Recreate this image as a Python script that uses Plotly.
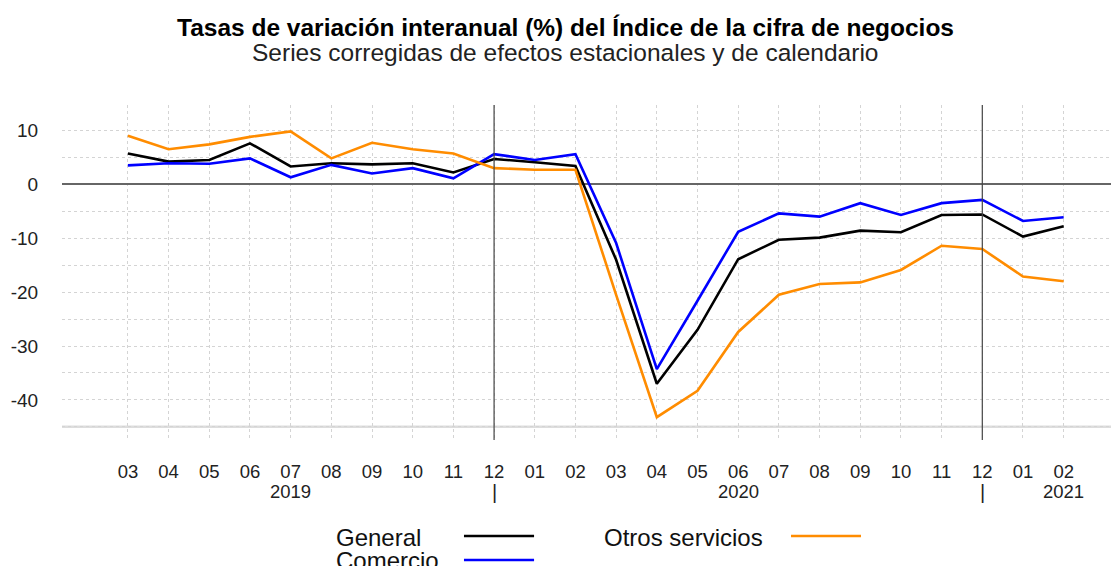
import plotly.graph_objects as go

months = ["03", "04", "05", "06", "07", "08", "09", "10", "11", "12", "01", "02",
          "03", "04", "05", "06", "07", "08", "09", "10", "11", "12", "01", "02"]
years = ["2019", "2020", "2021"]
year_pos = [4, 15, 23]
year_breaks = [9, 21]

general = [5.7, 4.2, 4.5, 7.6, 3.3, 3.9, 3.7, 3.9, 2.2, 4.7, 4.1, 3.4,
           -14.0, -37.0, -27.0, -13.9, -10.3, -9.9, -8.6, -8.9, -5.7, -5.6, -9.7, -7.8]
comercio = [3.5, 3.9, 3.8, 4.8, 1.3, 3.6, 2.0, 3.0, 1.1, 5.6, 4.5, 5.6,
            -10.9, -34.3, -21.6, -8.8, -5.4, -6.0, -3.5, -5.7, -3.5, -2.9, -6.8, -6.1]
otros = [9.0, 6.5, 7.4, 8.8, 9.8, 4.8, 7.7, 6.5, 5.7, 3.0, 2.7, 2.7,
         -20.5, -43.2, -38.3, -27.4, -20.5, -18.5, -18.2, -15.9, -11.4, -12.0, -17.1, -18.0]

series_names = ["General", "Comercio", "Otros servicios"]
series_vals = [general, comercio, otros]
series_colors = ["#000000", "#0000FF", "#FF8C00"]

y_ticks = [-45, -40, -35, -30, -25, -20, -15, -10, -5, 0, 5, 10]
y_ticktext = ["", "-40", "", "-30", "", "-20", "", "-10", "", "0", "", "10"]

FONT = "Liberation Sans, Arial, Helvetica, sans-serif"
x_idx = list(range(len(months)))

fig = go.Figure()
for name, vals, col in zip(series_names, series_vals, series_colors):
    fig.add_trace(go.Scatter(x=x_idx, y=vals, mode="lines", name=name,
                             line=dict(color=col, width=2.6), showlegend=False))

shapes = []
shapes.append(dict(type="line", xref="paper", x0=0, x1=1, yref="y", y0=-45, y1=-45,
                   line=dict(color="#dddddd", width=2.5), layer="below"))
for b in year_breaks:
    shapes.append(dict(type="line", xref="x", x0=b, x1=b, yref="paper", y0=0, y1=1,
                       line=dict(color="#444444", width=1.2)))

annotations = []
for yr, p in zip(years, year_pos):
    annotations.append(dict(text=yr, x=p, xref="x", y=-0.155, yref="paper",
                            showarrow=False, font=dict(size=18.5, color="#222222", family=FONT),
                            xanchor="center", yanchor="middle"))
for b in year_breaks:
    annotations.append(dict(text="|", x=b, xref="x", y=-0.155, yref="paper",
                            showarrow=False, font=dict(size=20, color="#222222", family=FONT),
                            xanchor="center", yanchor="middle"))

annotations.append(dict(text="<b>Tasas de variación interanual (%) del Índice de la cifra de negocios</b>",
                        x=0.4759, y=1.2328, xref="paper", yref="paper", showarrow=False,
                        font=dict(size=24.5, color="#000000", family=FONT),
                        xanchor="center", yanchor="middle"))
annotations.append(dict(text="Series corregidas de efectos estacionales y de calendario",
                        x=0.4759, y=1.158, xref="paper", yref="paper", showarrow=False,
                        font=dict(size=24.5, color="#222222", family=FONT),
                        xanchor="center", yanchor="middle"))

leg = [("General", 0.2573, -0.2896, 0.3803, 0.4466, "#000000"),
       ("Comercio", 0.2573, -0.361, 0.3803, 0.4466, "#0000FF"),
       ("Otros servicios", 0.5109, -0.2896, 0.6897, 0.7559, "#FF8C00")]
for txt, tx, ty, k0, k1, col in leg:
    annotations.append(dict(text=txt, x=tx, y=ty, xref="paper", yref="paper", showarrow=False,
                            font=dict(size=24, color="#111111", family=FONT),
                            xanchor="left", yanchor="middle"))
    shapes.append(dict(type="line", xref="paper", yref="paper", x0=k0, x1=k1, y0=ty + 0.003,
                       y1=ty + 0.003, line=dict(color=col, width=2.6)))

# page has an 8px body margin: size the figure so the plot lands where the reference has it
fig.update_layout(
    width=1111, height=558,
    margin=dict(l=54, r=0, t=97, b=126),
    paper_bgcolor="white", plot_bgcolor="white",
    font=dict(family=FONT, size=18, color="#222222"),
    shapes=shapes, annotations=annotations,
    showlegend=False,
)
fig.update_xaxes(range=[-1.62, 24.36], tickvals=x_idx, ticktext=months,
                 showgrid=True, gridcolor="#d4d4d4", griddash="dot", gridwidth=1,
                 ticks="outside", ticklen=15, tickcolor="rgba(0,0,0,0)",
                 showline=False, zeroline=False,
                 tickfont=dict(size=18.5, color="#222222", family=FONT))
fig.update_yaxes(range=[-47.44, 14.71], tickvals=y_ticks, ticktext=y_ticktext,
                 showgrid=True, gridcolor="#d4d4d4", griddash="dot", gridwidth=1,
                 zeroline=True, zerolinecolor="#666666", zerolinewidth=1.6,
                 ticks="outside", ticklen=19, tickcolor="rgba(0,0,0,0)",
                 showline=False,
                 tickfont=dict(size=19, color="#222222", family=FONT))

fig.write_html("out.html")
